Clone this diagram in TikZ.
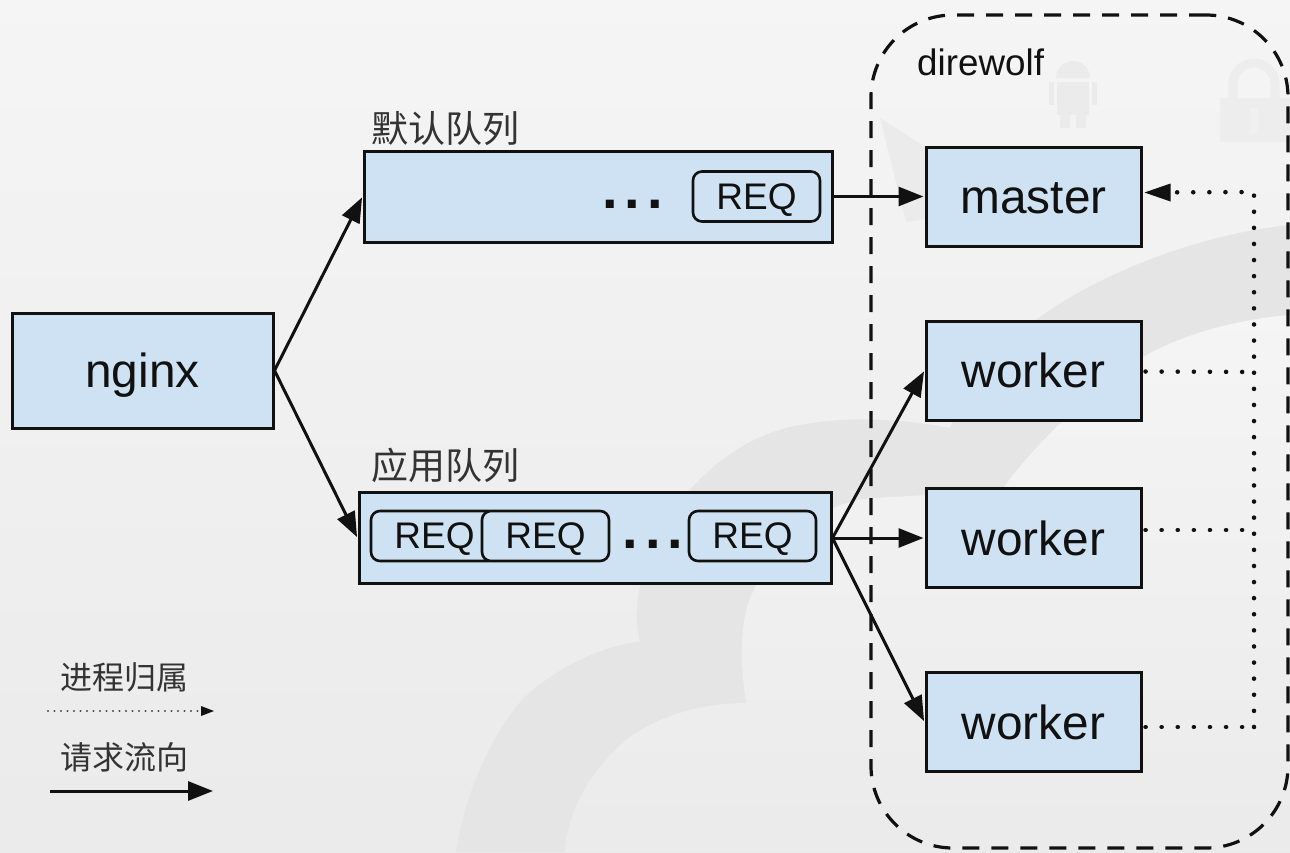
\documentclass[tikz,border=0pt]{standalone}
\usepackage{fontspec}
\setmainfont{Liberation Sans}
\newfontfamily\cjk{Noto Sans CJK SC}
\usetikzlibrary{arrows.meta,positioning}
\definecolor{boxblue}{HTML}{CFE2F3}
\definecolor{ink}{HTML}{111111}
\tikzset{
  x=1pt,y=-1pt,
  bigbox/.style={draw=ink,fill=boxblue,line width=3pt,inner sep=0pt,minimum width=215pt,minimum height=99pt,font=\fontsize{47.8}{50}\selectfont,text=ink,text height=34pt,text depth=0pt},
  queue/.style={draw=ink,fill=boxblue,line width=3pt,inner sep=0pt,minimum height=91pt},
  reqbox/.style={draw=ink,fill=boxblue,line width=2.6pt,rounded corners=9pt,inner sep=0pt,minimum width=127pt,minimum height=50pt,font=\fontsize{37}{40}\selectfont,text=ink,text height=25pt,text depth=0pt},
  flow/.style={draw=ink,line width=3pt,-{Triangle[length=25pt,width=19pt]},shorten >=1pt},
  owner/.style={draw=ink,line width=4.5pt,line cap=round,dash pattern=on 0.1pt off 16pt},
  qlabel/.style={font=\cjk\fontsize{37}{40}\selectfont,text=black!80,inner sep=0pt,anchor=west},
  leglabel/.style={font=\cjk\fontsize{32}{34}\selectfont,text=black!80,inner sep=0pt,anchor=west},
  dots/.style={font=\fontsize{56}{60}\bfseries\selectfont,text=ink,inner sep=0pt},
}
\begin{document}
\begin{tikzpicture}
\useasboundingbox (0,0) rectangle (1290,852);
% background
\shade[top color=white!96!black,bottom color=black!8] (0,0) rectangle (1290,852);
% cloud watermark: darker band
\fill[black!10] (456,852) .. controls (465,790) and (495,730) .. (522,700)
  .. controls (550,672) and (600,645) .. (640,642)
  .. controls (632,610) and (640,570) .. (660,530)
  .. controls (690,480) and (740,435) .. (800,425)
  .. controls (850,415) and (910,420) .. (950,428)
  .. controls (970,380) and (1010,335) .. (1040,317)
  .. controls (1090,280) and (1190,235) .. (1290,225)
  -- (1290,852) -- cycle;
% cloud watermark: lighter inside
\shade[top color=white!96!black,bottom color=black!8] (565,852) .. controls (568,810) and (590,770) .. (630,737)
  .. controls (665,712) and (710,703) .. (746,703)
  .. controls (738,650) and (742,610) .. (754,590)
  .. controls (775,535) and (830,500) .. (874,498)
  .. controls (900,496) and (960,495) .. (1004,487)
  .. controls (1030,450) and (1090,390) .. (1143,357)
  .. controls (1190,330) and (1250,318) .. (1290,315)
  -- (1290,852) -- cycle;
% plane watermark
\fill[black!8] (880,118) -- (930,150) -- (930,218) -- (906,222) -- cycle;
% android watermark
\fill[black!8] (1056,78) arc[start angle=180,end angle=360,x radius=17pt,y radius=-17pt] -- cycle;
\fill[black!8] (1057,82) rectangle (1089,115);
\fill[black!8] (1060,115) rectangle (1070,128);
\fill[black!8] (1076,115) rectangle (1086,128);
\fill[black!8] (1049,82) rectangle (1054,105);
\fill[black!8] (1092,82) rectangle (1097,105);
% lock watermark
\draw[black!7,line width=9pt] (1233,100) -- (1233,84) arc[start angle=180,end angle=0,radius=21pt] -- (1275,100);
\fill[black!7] (1220,98) rectangle (1290,142);
\fill[white!94!black] (1250,108) rectangle (1258,134);
% frame
\node[draw=ink,line width=3.2pt,rounded corners=82pt,dash pattern=on 17pt off 12pt,minimum width=417pt,minimum height=833pt,inner sep=0pt] (frame) at (1079.5,431.5) {};
\node[font=\fontsize{36.8}{40}\selectfont,text=ink,inner sep=0pt,anchor=base west] (dw) at (917,75) {direwolf};
% boxes
\node[bigbox,minimum width=261pt,minimum height=115pt] (nginx) at (142.5,370.5) {nginx};
\node[queue,minimum width=468pt] (q1) at (598,196.5) {};
\node[queue,minimum width=472pt] (q2) at (595,538) {};
\node[bigbox] (master) at (1033.5,196.5) {master};
\node[bigbox] (w1) at (1033.5,370.5) {worker};
\node[bigbox] (w2) at (1033.5,538) {worker};
\node[bigbox] (w3) at (1033.5,722) {worker};
% request chips
\node[reqbox] (r1) at (756.5,196.5) {REQ};
\node[reqbox] (r2) at (434.5,536) {REQ};
\node[reqbox] (r3) at (545.5,536) {REQ};
\node[reqbox] (r4) at (752.5,536) {REQ};
\node[dots] (d1) at (632.5,204) {.\kern7pt.\kern7pt.};
\node[dots] (d2) at (653,544) {.\kern7pt.\kern7pt.};
% queue labels
\node[qlabel] (l1) at (371,129) {默认队列};
\node[qlabel] (l2) at (371,465) {应用队列};
% request flow
\draw[flow] (nginx.east) -- (q1.west);
\draw[flow] (nginx.east) -- (q2.west);
\draw[flow] (q1.east) -- (master.west);
\draw[flow] (q2.east) -- (w1.west);
\draw[flow] (q2.east) -- (w2.west);
\draw[flow] (q2.east) -- (w3.west);
% ownership
\coordinate (bt) at (1254,192);
\coordinate (b1) at (1254,372);
\coordinate (b2) at (1254,530);
\coordinate (b3) at (1254,727);
\coordinate (mtip) at ([yshift=4pt]master.east);
\draw[owner] ([yshift=-1pt]w1.east) ++(3pt,0) -- (b1);
\draw[owner] ([yshift=8pt]w2.east) ++(3pt,0) -- (b2);
\draw[owner] ([yshift=-5pt]w3.east) ++(3pt,0) -- (b3);
\draw[owner,shorten >=32pt] (b3) -- (bt) -- (mtip);
\fill[ink] ([xshift=2pt]mtip) -- ++(26,-9) -- ++(0,18) -- cycle;
% legend
\node[leglabel] (k1) at (60,677) {进程归属};
\node[leglabel] (k2) at (60,757) {请求流向};
\coordinate (a1) at (48,711);
\coordinate (a2) at (214,711);
\coordinate (c1) at (50,791);
\coordinate (c2) at (214,791);
\draw[draw=black!70,line width=2.2pt,line cap=round,dash pattern=on 0.1pt off 6.4pt,shorten >=13pt] (a1) -- (a2);
\fill[ink] (a2) -- ++(-13,-5) -- ++(0,10) -- cycle;
\draw[flow] (c1) -- (c2);
\end{tikzpicture}
\end{document}
